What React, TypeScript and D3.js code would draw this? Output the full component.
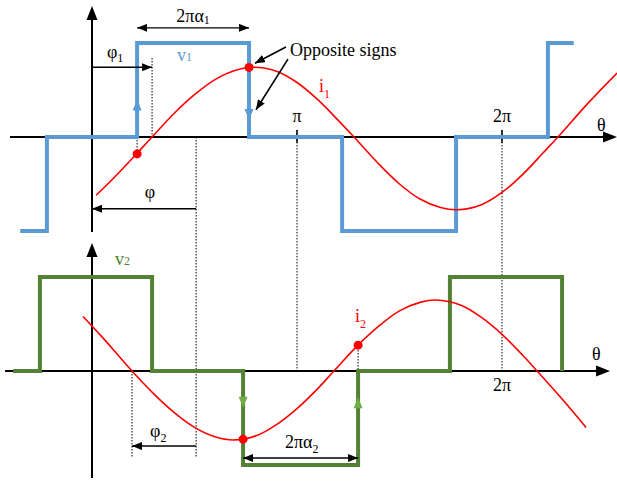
import React, { useEffect, useRef } from 'react'
import * as d3 from 'd3'

// angles are in multiples of π, levels are relative to the pulse height
const v1Steps: [number, number][] = [
    [-0.35, -1], [-0.22, 0], [0.22, 1], [0.766, 0], [1.22, -1], [1.776, 0], [2.224, 1], [2.35, 1],
]
const v2Steps: [number, number][] = [
    [-0.385, 0], [-0.254, 1], [0.293, 0], [0.737, -1], [1.298, 0], [1.746, 1], [2.293, 0],
]

// current waveforms
const i1Points: [number, number][] = [
    [0.02, -0.62], [0.1, -0.45], [0.2, -0.22], [0.293, 0], [0.4, 0.25], [0.5, 0.45], [0.6, 0.61],
    [0.7, 0.71], [0.79, 0.742], [0.9, 0.7], [1.0, 0.58], [1.1, 0.4], [1.2, 0.18], [1.278, 0],
    [1.4, -0.29], [1.5, -0.5], [1.6, -0.66], [1.7, -0.75], [1.78, -0.774], [1.9, -0.72],
    [2.0, -0.59], [2.1, -0.4], [2.2, -0.17], [2.273, 0], [2.42, 0.36], [2.561, 0.68],
]
const i2Points: [number, number][] = [
    [-0.044, 0.58], [0.05, 0.36], [0.195, 0], [0.3, -0.24], [0.4, -0.44], [0.5, -0.6],
    [0.6, -0.7], [0.69, -0.734], [0.8, -0.69], [0.9, -0.57], [1.0, -0.4], [1.1, -0.19],
    [1.18, 0], [1.3, 0.28], [1.4, 0.48], [1.5, 0.64], [1.6, 0.73], [1.675, 0.755], [1.8, 0.7],
    [1.9, 0.57], [2.0, 0.39], [2.1, 0.17], [2.171, 0], [2.29, -0.29], [2.41, -0.6],
]
const i1Dots: [number, number][] = [[0.22, -0.18], [0.766, 0.74]]
const i2Dots: [number, number][] = [[0.737, -0.725], [1.298, 0.275]]

// direction arrows on the pulse edges
const v1EdgeArrows = [{ t: 0.22, v: 0.4, dir: -1 }, { t: 0.766, v: 0.18, dir: 1 }]
const v2EdgeArrows = [{ t: 0.737, v: -0.39, dir: 1 }, { t: 1.298, v: -0.28, dir: -1 }]

const tickAngles = [1, 2]
const tickLabels = ['π', '2π']

// dimension arrows: from, to, level
const topSpans = [
    { from: 0, to: 0.293, v: 0.742, both: false },
    { from: 0.508, to: 0, v: -0.763, both: false },
    { from: 0.22, to: 0.766, v: 1.161, both: true },
]
const bottomSpans = [
    { from: 0.508, to: 0.195, v: -0.798, both: false },
    { from: 0.737, to: 1.298, v: -0.926, both: true },
]
const pointers = [
    { t0: 0.946, v0: 0.957, t1: 0.795, v1: 0.785 },
    { t0: 0.956, v0: 0.828, t1: 0.8, v1: 0.29 },
]

// dotted guides
const topGuides = [{ t: 0.293, a: 0.84, b: 0 }, { t: 0.22, a: 0, b: -0.183 }]
const bottomGuides = [{ t: 0.195, a: 0, b: -0.915 }, { t: 1.298, a: 0.255, b: 0 }]
const crossGuides = [{ t: 0.508, a: 0, b: -0.915 }, { t: 1, a: 0.075, b: 0 }, { t: 2, a: 0.075, b: 0 }]

const topLabels = [
    { text: '2πα', sub: '1', t: 0.493, v: 1.226, anchor: 'middle', color: '#000', dy: 2 },
    { text: 'v', sub: '1', t: 0.415, v: 0.806, anchor: 'start', color: '#5b9bd5', dy: 0 },
    { text: 'φ', sub: '1', t: 0.073, v: 0.84, anchor: 'start', color: '#000', dy: 4 },
    { text: 'φ', sub: '', t: 0.283, v: -0.645, anchor: 'middle', color: '#000', dy: 0 },
    { text: 'Opposite signs', sub: '', t: 0.966, v: 0.86, anchor: 'start', color: '#000', dy: 0 },
    { text: 'i', sub: '1', t: 1.107, v: 0.484, anchor: 'start', color: '#ff0000', dy: 6 },
    { text: 'θ', sub: '', t: 2.463, v: 0.065, anchor: 'start', color: '#000', dy: 0 },
]
const bottomLabels = [
    { text: 'v', sub: '2', t: 0.112, v: 1.128, anchor: 'start', color: '#548235', dy: 0 },
    { text: 'φ', sub: '2', t: 0.283, v: -0.702, anchor: 'start', color: '#000', dy: 5 },
    { text: '2πα', sub: '2', t: 0.941, v: -0.819, anchor: 'start', color: '#000', dy: 5 },
    { text: 'i', sub: '2', t: 1.283, v: 0.521, anchor: 'start', color: '#ff0000', dy: 6 },
    { text: 'θ', sub: '', t: 2.439, v: 0.117, anchor: 'start', color: '#000', dy: 0 },
]

const W = 617
const H = 482
const BLUE = '#5b9bd5'
const GREEN = '#548235'
const LIGHT_GREEN = '#70ad47'
const RED = '#ff0000'
const FONT = '"Liberation Serif", "DejaVu Serif", serif'

const App = () => {
    const svgRef = useRef<SVGSVGElement>(null)

    useEffect(() => {
        const svg = d3.select(svgRef.current)
        svg.selectAll('*').remove()

        const x = d3.scaleLinear().domain([0, 2]).range([92, 502])
        const yTop = d3.scaleLinear().domain([-1, 1]).range([231, 43])
        const yBot = d3.scaleLinear().domain([-1, 1]).range([465, 277])

        const defs = svg.append('defs')
        defs.append('marker')
            .attr('id', 'arr')
            .attr('viewBox', '0 -4 10 8')
            .attr('refX', 10)
            .attr('refY', 0)
            .attr('markerUnits', 'userSpaceOnUse')
            .attr('markerWidth', 10)
            .attr('markerHeight', 8)
            .attr('orient', 'auto-start-reverse')
            .append('path')
            .attr('d', 'M0,-4L10,0L0,4Z')
            .attr('fill', '#000')

        // axes with arrow heads
        const axis = (y: d3.ScaleLinear<number, number>, tx: [number, number], vy: [number, number]) => {
            const g = svg.append('g')
            const x0 = x(tx[0]), x1 = x(tx[1]), yz = y(0)
            g.append('line').attr('x1', x0).attr('x2', x1 - 10).attr('y1', yz).attr('y2', yz)
                .attr('stroke', '#000').attr('stroke-width', 2)
            g.append('path').attr('d', `M${x1},${yz}L${x1 - 14},${yz - 5.5}L${x1 - 14},${yz + 5.5}Z`)
            const xa = x(0), ya = y(vy[0]), yb = y(vy[1])
            g.append('line').attr('x1', xa).attr('x2', xa).attr('y1', ya + 10).attr('y2', yb)
                .attr('stroke', '#000').attr('stroke-width', 2)
            g.append('path').attr('d', `M${xa},${ya}L${xa - 5.5},${ya + 14}L${xa + 5.5},${ya + 14}Z`)
        }
        axis(yTop, [-0.4, 2.561], [1.394, -1.01])
        axis(yBot, [-0.424, 2.527], [1.362, -1.138])

        // ticks at π and 2π on the upper axis
        svg.append('g').selectAll('line').data(tickAngles).join('line')
            .attr('x1', d => x(d)).attr('x2', d => x(d))
            .attr('y1', yTop(0.075)).attr('y2', yTop(-0.06))
            .attr('stroke', '#000').attr('stroke-width', 1.5)

        // dotted guides
        const dots = svg.append('g').attr('stroke', '#000').attr('stroke-width', 1)
            .attr('stroke-dasharray', '1.5,1.5')
        topGuides.forEach(d => dots.append('line').attr('x1', x(d.t)).attr('x2', x(d.t))
            .attr('y1', yTop(d.a)).attr('y2', yTop(d.b)))
        bottomGuides.forEach(d => dots.append('line').attr('x1', x(d.t)).attr('x2', x(d.t))
            .attr('y1', yBot(d.a)).attr('y2', yBot(d.b)))
        crossGuides.forEach(d => dots.append('line').attr('x1', x(d.t)).attr('x2', x(d.t))
            .attr('y1', yTop(d.a)).attr('y2', yBot(d.b)))

        // square waves
        const step = (y: d3.ScaleLinear<number, number>) => d3.line<[number, number]>()
            .x(d => x(d[0])).y(d => y(d[1])).curve(d3.curveStepAfter)
        svg.append('path').attr('d', step(yTop)(v1Steps))
            .attr('fill', 'none').attr('stroke', BLUE).attr('stroke-width', 4)
        svg.append('path').attr('d', step(yBot)(v2Steps))
            .attr('fill', 'none').attr('stroke', GREEN).attr('stroke-width', 4)

        const edgeArrow = (y: d3.ScaleLinear<number, number>, list: typeof v1EdgeArrows, color: string) => {
            svg.append('g').selectAll('path').data(list).join('path')
                .attr('d', d => {
                    const px = x(d.t), py = y(d.v)
                    return `M${px},${py}L${px - 4.5},${py - 11 * d.dir}L${px + 4.5},${py - 11 * d.dir}Z`
                })
                .attr('fill', color)
        }
        edgeArrow(yTop, v1EdgeArrows, BLUE)
        edgeArrow(yBot, v2EdgeArrows, LIGHT_GREEN)

        // currents
        const smooth = (y: d3.ScaleLinear<number, number>) => d3.line<[number, number]>()
            .x(d => x(d[0])).y(d => y(d[1])).curve(d3.curveCatmullRom)
        svg.append('path').attr('d', smooth(yTop)(i1Points))
            .attr('fill', 'none').attr('stroke', RED).attr('stroke-width', 1.6)
        svg.append('path').attr('d', smooth(yBot)(i2Points))
            .attr('fill', 'none').attr('stroke', RED).attr('stroke-width', 1.6)
        svg.append('g').selectAll('circle').data(i1Dots).join('circle')
            .attr('cx', d => x(d[0])).attr('cy', d => yTop(d[1])).attr('r', 4.5).attr('fill', RED)
        svg.append('g').selectAll('circle').data(i2Dots).join('circle')
            .attr('cx', d => x(d[0])).attr('cy', d => yBot(d[1])).attr('r', 4.5).attr('fill', RED)

        // dimension arrows
        const spans = (y: d3.ScaleLinear<number, number>, list: typeof topSpans) => {
            svg.append('g').selectAll('line').data(list).join('line')
                .attr('x1', d => x(d.from)).attr('x2', d => x(d.to))
                .attr('y1', d => y(d.v)).attr('y2', d => y(d.v))
                .attr('stroke', '#000').attr('stroke-width', 1.4)
                .attr('marker-end', 'url(#arr)')
                .attr('marker-start', d => d.both ? 'url(#arr)' : null)
        }
        spans(yTop, topSpans)
        spans(yBot, bottomSpans)
        svg.append('g').selectAll('line').data(pointers).join('line')
            .attr('x1', d => x(d.t0)).attr('x2', d => x(d.t1))
            .attr('y1', d => yTop(d.v0)).attr('y2', d => yTop(d.v1))
            .attr('stroke', '#000').attr('stroke-width', 1.6)
            .attr('marker-end', 'url(#arr)')

        // labels
        const labels = (y: d3.ScaleLinear<number, number>, list: typeof topLabels) => {
            list.forEach(d => {
                const t = svg.append('text')
                    .attr('x', x(d.t)).attr('y', y(d.v))
                    .attr('text-anchor', d.anchor)
                    .attr('font-family', FONT).attr('font-size', 18)
                    .attr('fill', d.color)
                t.append('tspan').text(d.text)
                if (d.sub) t.append('tspan').attr('font-size', 12).attr('dy', d.dy).text(d.sub)
            })
        }
        labels(yTop, topLabels)
        labels(yBot, bottomLabels)

        svg.append('g').selectAll('text').data(tickAngles).join('text')
            .attr('x', d => x(d)).attr('y', yTop(0.161))
            .attr('text-anchor', 'middle').attr('font-family', FONT).attr('font-size', 18)
            .text((d, i) => tickLabels[i])
        svg.append('text')
            .attr('x', x(2)).attr('y', yBot(-0.213))
            .attr('text-anchor', 'middle').attr('font-family', FONT).attr('font-size', 18)
            .text(tickLabels[1])
    }, [])

    return (
        <svg ref={svgRef} width={W} height={H}
            style={{ position: 'absolute', left: 0, top: 0, background: '#fff' }}></svg>
    )
}

export default App
